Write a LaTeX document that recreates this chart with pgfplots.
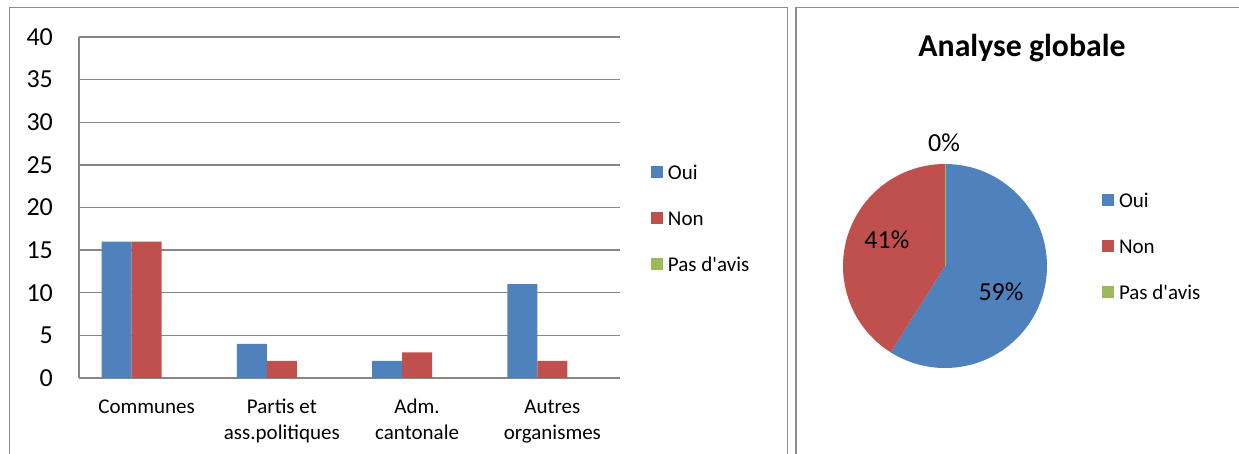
\documentclass[border=0pt]{standalone}
\usepackage{pgfplots}
\pgfplotsset{compat=1.18}
\usepackage{pgfplotstable}
\usepackage{fontspec}
\setmainfont{Carlito}
\definecolor{oui}{HTML}{4F81BD}
\definecolor{non}{HTML}{C0504D}
\definecolor{pas}{HTML}{9BBB59}
\definecolor{gridgray}{HTML}{868686}
\definecolor{framegray}{HTML}{8C8C8C}

\pgfplotstableread{
cat oui non pas
0 16 16 0
1 4 2 0
2 2 3 0
3 11 2 0
}\bardata

\pgfplotstableread{
label value
Oui 33
Non 23
Pas 0
}\piedata

\begin{document}
\begin{tikzpicture}
\path[use as bounding box] (0,0) rectangle (619.5pt,-227pt);
\clip (0,0) rectangle (619.5pt,-227pt);
\draw[framegray, line width=0.7pt] (4.75pt,-300pt) -- (4.75pt,-3.75pt) -- (393.75pt,-3.75pt) -- (393.75pt,-300pt);
\draw[framegray, line width=0.7pt] (398pt,-300pt) -- (398pt,-3.75pt) -- (700pt,-3.75pt);

\begin{axis}[
  at={(39.5pt,-189pt)}, anchor=south west,
  scale only axis, width=270.5pt, height=170.5pt,
  xmin=-0.5, xmax=3.5, ymin=0, ymax=40,
  ybar=0pt, bar width=15pt,
  xtick={0,1,2,3},
  xticklabels={{\strut Communes},{\strut Partis et\\\strut ass.politiques},{\strut Adm.\\\strut cantonale},{\strut Autres\\\strut organismes}},
  ytick={0,5,...,40},
  axis x line*=bottom, axis y line*=left,
  axis line style={gridgray, line width=0.7pt, -},
  ymajorgrids, grid style={gridgray, line width=0.7pt},
  major tick length=0pt, tick style={draw=none},
  /pgf/number format/assume math mode=true,
  yticklabel style={font=\fontsize{13pt}{15pt}\selectfont, inner sep=0pt, anchor=east, xshift=-12.85pt},
  xticklabel style={font=\fontsize{10.5pt}{13pt}\selectfont, inner sep=0pt, anchor=north, align=center, yshift=-8.4pt},
  legend image code/.code={\fill[#1] (0pt,-3pt) rectangle (6pt,3pt);},
  legend cell align=left,
  legend style={at={(1,0.4683)}, anchor=west, xshift=15.5pt, draw=none, fill=none,
    inner sep=0pt, outer sep=0pt, row sep=16pt,
    font=\fontsize{10.5pt}{13pt}\selectfont,
    nodes={inner sep=0pt, text height=7pt, text depth=0pt},
    /tikz/every odd column/.append style={column sep=2.5pt}},
]
\addplot[draw=none, fill=oui] table[x=cat, y=oui] {\bardata};
\addlegendentry{Oui}
\addplot[draw=none, fill=non] table[x=cat, y=non] {\bardata};
\addlegendentry{Non}
\addplot[draw=none, fill=pas] table[x=cat, y=pas] {\bardata};
\addlegendentry{Pas d\textquotesingle avis}
\end{axis}

\node[font=\bfseries\fontsize{15.9pt}{19pt}\selectfont, anchor=base] at (511pt,-28.5pt) {Analyse globale};

\pgfplotstablegetelem{0}{value}\of\piedata \let\vA\pgfplotsretval
\pgfplotstablegetelem{1}{value}\of\piedata \let\vB\pgfplotsretval
\pgfplotstablegetelem{2}{value}\of\piedata \let\vC\pgfplotsretval
\pgfmathsetmacro\tot{\vA+\vB+\vC}
\pgfmathsetmacro\aA{360*\vA/\tot}
\pgfmathsetmacro\aB{360*\vB/\tot}
\pgfmathsetmacro\sB{90-\aA}

\begin{axis}[
  at={(472.5pt,-133pt)}, anchor=center,
  scale only axis, width=102pt, height=102pt,
  xmin=-1, xmax=1, ymin=-1, ymax=1,
  hide axis, clip=false,
  legend image code/.code={\fill[#1] (0pt,-3pt) rectangle (6pt,3pt);},
  legend cell align=left,
  legend style={at={(1,0.598)}, anchor=west, xshift=27.5pt, draw=none, fill=none,
    inner sep=0pt, outer sep=0pt, row sep=16pt,
    font=\fontsize{10.5pt}{13pt}\selectfont,
    nodes={inner sep=0pt, text height=7pt, text depth=0pt},
    /tikz/every odd column/.append style={column sep=2.5pt}},
]
\addlegendimage{draw=none, fill=oui}
\addlegendentry{Oui}
\addlegendimage{draw=none, fill=non}
\addlegendentry{Non}
\addlegendimage{draw=none, fill=pas}
\addlegendentry{Pas d\textquotesingle avis}
\fill[oui] (axis cs:0,0) -- (axis cs:0,1) arc[start angle=90, delta angle=-\aA, radius=51pt] -- cycle;
\fill[non] (axis cs:0,0) -- (axis cs:{cos(\sB)},{sin(\sB)}) arc[start angle=\sB, delta angle=-\aB, radius=51pt] -- cycle;
\draw[pas, line width=0.4pt] (axis cs:0,0) -- (axis cs:0,1);
\node[font=\fontsize{13pt}{15pt}\selectfont, inner sep=0pt] at (axis cs:-0.01,1.206) {0\%};
\node[font=\fontsize{13pt}{15pt}\selectfont, inner sep=0pt] at (axis cs:-0.569,0.255) {41\%};
\node[font=\fontsize{13pt}{15pt}\selectfont, inner sep=0pt] at (axis cs:0.549,-0.255) {59\%};
\end{axis}
\end{tikzpicture}
\end{document}
